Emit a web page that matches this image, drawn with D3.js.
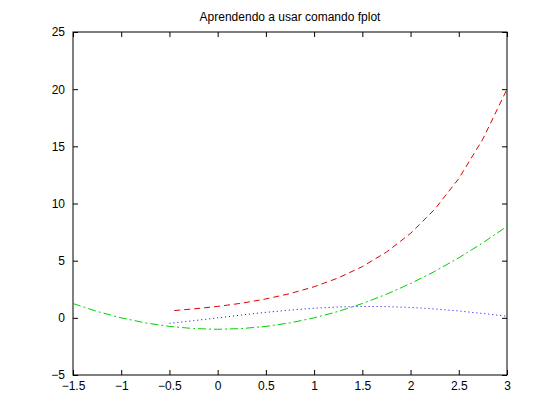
<!DOCTYPE html>
<html><head><meta charset="utf-8">
<script src="https://cdn.jsdelivr.net/npm/d3@7"></script>
<style>body{margin:0;background:#fff}svg{font-family:"Liberation Sans",Arial,sans-serif}</style>
</head><body><div id="chart"></div>
<script>
const xTicks = [-1.5, -1, -0.5, 0, 0.5, 1, 1.5, 2, 2.5, 3];
const yTicks = [-5, 0, 5, 10, 15, 20, 25];
const redX = [-0.45, -0.25, 0, 0.25, 0.5, 0.75, 1, 1.25, 1.5, 1.75, 2, 2.25, 2.5, 2.75, 3];
const redY = [0.64, 0.78, 1.0, 1.28, 1.65, 2.12, 2.72, 3.49, 4.48, 5.75, 7.39, 9.49, 12.18, 15.64, 20.0];
const greenX = [-1.5, -1.25, -1, -0.75, -0.5, -0.25, 0, 0.25, 0.5, 0.75, 1, 1.25, 1.5, 1.75, 2, 2.25, 2.5, 2.75, 3];
const greenY = [1.25, 0.56, 0, -0.44, -0.75, -0.94, -1, -0.94, -0.75, -0.44, 0, 0.56, 1.25, 2.06, 3, 4.06, 5.25, 6.56, 8];
const blueX = [-0.5, -0.25, 0, 0.25, 0.5, 0.75, 1, 1.25, 1.5, 1.75, 2, 2.25, 2.5, 2.75, 3];
const blueY = [-0.48, -0.25, 0, 0.25, 0.48, 0.68, 0.84, 0.95, 1.0, 0.98, 0.91, 0.78, 0.6, 0.38, 0.14];

const width = 560, height = 420;
const m = {left: 73, right: 53, top: 32, bottom: 45};
const svg = d3.select("#chart").append("svg").attr("width", width).attr("height", height);
const x = d3.scaleLinear().domain([-1.5, 3]).range([m.left, width - m.right]);
const y = d3.scaleLinear().domain([-5, 25]).range([height - m.bottom, m.top]);

svg.append("rect").attr("x", m.left).attr("y", m.top)
   .attr("width", width - m.left - m.right).attr("height", height - m.top - m.bottom)
   .attr("fill", "#fff").attr("stroke", "#000");

const axes = [
  [d3.axisBottom(x).tickValues(xTicks).tickSize(-5).tickPadding(6), `translate(0,${height - m.bottom})`, true],
  [d3.axisTop(x).tickValues(xTicks).tickSize(-5), `translate(0,${m.top})`, false],
  [d3.axisLeft(y).tickValues(yTicks).tickSize(-5).tickPadding(8), `translate(${m.left},0)`, true],
  [d3.axisRight(y).tickValues(yTicks).tickSize(-5), `translate(${width - m.right},0)`, false]
];
axes.forEach(([ax, tr, labels]) => {
  const g = svg.append("g").attr("transform", tr).call(ax.tickFormat(labels ? d3.format("") : ""));
  g.select(".domain").remove();
  g.selectAll("text").attr("font-size", 12).attr("fill", "#000").style("font-family", "inherit");
});

const line = d3.line().x(d => x(d[0])).y(d => y(d[1]));
const series = [
  [redX, redY, "#e00000", "6,4"],
  [greenX, greenY, "#00d000", "8,3,2,3"],
  [blueX, blueY, "#0000ff", "1,3"]
];
series.forEach(([xs, ys, c, dash]) => {
  svg.append("path").datum(xs.map((v, i) => [v, ys[i]]))
     .attr("d", line).attr("fill", "none").attr("stroke", c)
     .attr("stroke-dasharray", dash).attr("stroke-width", 1);
});

svg.append("text").attr("x", (m.left + width - m.right) / 2).attr("y", 21)
   .attr("text-anchor", "middle").attr("font-size", 12).text("Aprendendo a usar comando fplot");
</script></body></html>
